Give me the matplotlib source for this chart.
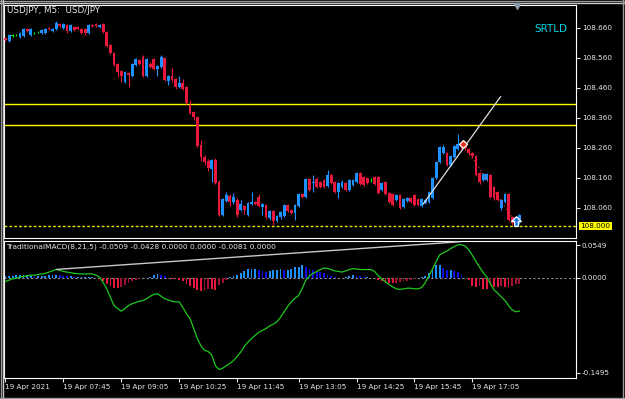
import numpy as np
import matplotlib
matplotlib.use("Agg")
import matplotlib.pyplot as plt
from matplotlib.path import Path

# USDJPY M5, 19 Apr 2021, bar 0 = 06:25
opens = [
    108.626, 108.616, 108.634, 108.636, 108.629, 108.632, 108.656, 108.636, 108.642, 108.646,
    108.642, 108.642, 108.659, 108.649, 108.656, 108.672, 108.659, 108.669, 108.649, 108.662,
    108.662, 108.656, 108.656, 108.642, 108.669, 108.672, 108.662, 108.672, 108.646, 108.602,
    108.576, 108.539, 108.516, 108.480, 108.509, 108.499, 108.536, 108.552, 108.562, 108.499,
    108.539, 108.556, 108.522, 108.529, 108.559, 108.482, 108.499, 108.489, 108.462, 108.476,
    108.462, 108.402, 108.379, 108.362, 108.269, 108.229, 108.216, 108.189, 108.219, 108.146,
    108.036, 108.082, 108.099, 108.079, 108.086, 108.052, 108.066, 108.036, 108.072, 108.079,
    108.096, 108.062, 108.069, 108.026, 108.049, 108.016, 108.029, 108.032, 108.069, 108.052,
    108.042, 108.066, 108.106, 108.096, 108.156, 108.142, 108.156, 108.146, 108.152, 108.132,
    108.169, 108.146, 108.112, 108.129, 108.142, 108.119, 108.136, 108.146, 108.176, 108.162,
    108.159, 108.152, 108.162, 108.162, 108.119, 108.146, 108.109, 108.106, 108.086, 108.102,
    108.062, 108.082, 108.092, 108.102, 108.089, 108.066, 108.076, 108.079, 108.092, 108.159,
    108.212, 108.242, 108.242, 108.202, 108.229, 108.256, 108.272, 108.276, 108.256, 108.242,
    108.232, 108.176, 108.152, 108.152, 108.169, 108.129, 108.112, 108.059, 108.079, 108.106,
    108.029, 108.019, 108.009,
]
highs = [
    108.630, 108.639, 108.638, 108.640, 108.645, 108.660, 108.659, 108.659, 108.646, 108.650,
    108.655, 108.659, 108.662, 108.659, 108.681, 108.676, 108.676, 108.672, 108.672, 108.666,
    108.666, 108.659, 108.659, 108.672, 108.672, 108.676, 108.672, 108.676, 108.649, 108.606,
    108.579, 108.542, 108.519, 108.516, 108.512, 108.542, 108.559, 108.556, 108.569, 108.559,
    108.545, 108.559, 108.536, 108.568, 108.562, 108.502, 108.526, 108.492, 108.499, 108.489,
    108.466, 108.419, 108.382, 108.366, 108.286, 108.236, 108.222, 108.222, 108.226, 108.152,
    108.092, 108.112, 108.106, 108.109, 108.092, 108.086, 108.069, 108.079, 108.112, 108.082,
    108.106, 108.076, 108.072, 108.052, 108.052, 108.036, 108.049, 108.072, 108.072, 108.056,
    108.072, 108.109, 108.109, 108.159, 108.159, 108.169, 108.162, 108.149, 108.156, 108.186,
    108.172, 108.149, 108.146, 108.152, 108.146, 108.156, 108.156, 108.179, 108.179, 108.166,
    108.162, 108.159, 108.166, 108.166, 108.146, 108.149, 108.112, 108.109, 108.106, 108.106,
    108.092, 108.096, 108.096, 108.106, 108.092, 108.092, 108.089, 108.116, 108.162, 108.216,
    108.266, 108.269, 108.246, 108.236, 108.269, 108.306, 108.279, 108.279, 108.259, 108.246,
    108.236, 108.179, 108.176, 108.176, 108.172, 108.132, 108.116, 108.089, 108.109, 108.109,
    108.032, 108.022, 108.039,
]
lows = [
    108.616, 108.613, 108.630, 108.632, 108.626, 108.628, 108.646, 108.632, 108.638, 108.642,
    108.639, 108.639, 108.652, 108.646, 108.652, 108.662, 108.656, 108.642, 108.646, 108.649,
    108.652, 108.639, 108.636, 108.639, 108.664, 108.662, 108.659, 108.642, 108.596, 108.572,
    108.532, 108.496, 108.480, 108.476, 108.462, 108.496, 108.532, 108.536, 108.495, 108.496,
    108.526, 108.519, 108.499, 108.526, 108.482, 108.469, 108.479, 108.455, 108.459, 108.452,
    108.406, 108.372, 108.352, 108.262, 108.216, 108.202, 108.182, 108.146, 108.139, 108.032,
    108.032, 108.079, 108.066, 108.072, 108.029, 108.049, 108.039, 108.032, 108.069, 108.069,
    108.062, 108.036, 108.022, 108.019, 108.002, 108.012, 108.022, 108.029, 108.046, 108.039,
    108.019, 108.062, 108.092, 108.092, 108.116, 108.112, 108.126, 108.126, 108.126, 108.129,
    108.139, 108.109, 108.092, 108.126, 108.116, 108.116, 108.132, 108.142, 108.136, 108.132,
    108.139, 108.146, 108.136, 108.106, 108.116, 108.102, 108.076, 108.066, 108.082, 108.056,
    108.059, 108.079, 108.076, 108.066, 108.066, 108.062, 108.072, 108.076, 108.089, 108.156,
    108.209, 108.239, 108.199, 108.199, 108.226, 108.252, 108.256, 108.252, 108.236, 108.226,
    108.166, 108.139, 108.149, 108.149, 108.092, 108.086, 108.082, 108.052, 108.076, 108.016,
    108.002, 108.002, 108.006,
]
closes = [
    108.619, 108.636, 108.635, 108.636, 108.642, 108.656, 108.649, 108.656, 108.642, 108.647,
    108.652, 108.656, 108.656, 108.656, 108.676, 108.666, 108.672, 108.649, 108.669, 108.652,
    108.656, 108.642, 108.642, 108.669, 108.667, 108.666, 108.669, 108.646, 108.599, 108.576,
    108.536, 108.512, 108.499, 108.512, 108.502, 108.539, 108.556, 108.539, 108.499, 108.556,
    108.529, 108.522, 108.532, 108.562, 108.486, 108.499, 108.486, 108.462, 108.476, 108.456,
    108.409, 108.376, 108.362, 108.266, 108.229, 108.212, 108.192, 108.219, 108.142, 108.036,
    108.089, 108.102, 108.079, 108.096, 108.036, 108.072, 108.052, 108.076, 108.079, 108.072,
    108.066, 108.072, 108.029, 108.049, 108.016, 108.032, 108.046, 108.069, 108.049, 108.042,
    108.069, 108.106, 108.096, 108.156, 108.119, 108.146, 108.129, 108.129, 108.129, 108.169,
    108.142, 108.112, 108.142, 108.146, 108.119, 108.152, 108.152, 108.176, 108.139, 108.136,
    108.142, 108.153, 108.139, 108.109, 108.142, 108.106, 108.079, 108.069, 108.102, 108.059,
    108.089, 108.092, 108.079, 108.069, 108.069, 108.089, 108.086, 108.112, 108.159, 108.212,
    108.262, 108.262, 108.202, 108.232, 108.266, 108.272, 108.262, 108.259, 108.242, 108.232,
    108.169, 108.146, 108.172, 108.172, 108.096, 108.092, 108.086, 108.086, 108.106, 108.019,
    108.009, 108.006, 108.036,
]

# TraditionalMACD(8,21,5): main line and histogram
macd_line = [
    -0.0055, -0.0037, -0.0018, -0.0009, 0.0009, 0.0018, 0.0028, 0.0037, 0.0037, 0.0046,
    0.0055, 0.0064, 0.0083, 0.0101, 0.0120, 0.0110, 0.0092, 0.0083, 0.0074, 0.0064,
    0.0060, 0.0055, 0.0055, 0.0055, 0.0055, 0.0037, 0.0009, -0.0074, -0.0166, -0.0295,
    -0.0414, -0.0460, -0.0497, -0.0460, -0.0414, -0.0387, -0.0368, -0.0350, -0.0341, -0.0313,
    -0.0276, -0.0249, -0.0239, -0.0276, -0.0313, -0.0332, -0.0350, -0.0359, -0.0359, -0.0442,
    -0.0534, -0.0608, -0.0755, -0.0903, -0.1013, -0.1078, -0.1096, -0.1151, -0.1308, -0.1363,
    -0.1345, -0.1308, -0.1271, -0.1234, -0.1170, -0.1105, -0.1022, -0.0958, -0.0903, -0.0857,
    -0.0810, -0.0783, -0.0755, -0.0718, -0.0691, -0.0654, -0.0589, -0.0507, -0.0424, -0.0359,
    -0.0304, -0.0267, -0.0157, -0.0037, 0.0028, 0.0064, 0.0092, 0.0120, 0.0143, 0.0138,
    0.0120, 0.0101, 0.0092, 0.0083, 0.0101, 0.0120, 0.0134, 0.0129, 0.0120, 0.0120,
    0.0120, 0.0120, 0.0092, 0.0028, -0.0018, -0.0064, -0.0101, -0.0138, -0.0166, -0.0175,
    -0.0166, -0.0157, -0.0157, -0.0166, -0.0166, -0.0147, -0.0074, 0.0028, 0.0129, 0.0239,
    0.0341, 0.0368, 0.0396, 0.0433, 0.0460, 0.0488, 0.0488, 0.0470, 0.0414, 0.0332,
    0.0239, 0.0157, 0.0074, 0.0009, -0.0092, -0.0184, -0.0230, -0.0285, -0.0341, -0.0414,
    -0.0479, -0.0507, -0.0497,
]
macd_hist = [
    0.0018, 0.0028, 0.0028, 0.0037, 0.0037, 0.0037, 0.0037, 0.0037, 0.0028, 0.0028,
    0.0028, 0.0028, 0.0037, 0.0046, 0.0046, 0.0037, 0.0028, 0.0018, 0.0018, 0.0009,
    0.0009, 0.0009, 0.0009, 0.0009, 0.0009, 0.0000, -0.0018, -0.0055, -0.0092, -0.0120,
    -0.0147, -0.0157, -0.0138, -0.0110, -0.0083, -0.0055, -0.0037, -0.0018, -0.0009, 0.0000,
    0.0009, 0.0037, 0.0055, 0.0037, 0.0018, 0.0000, -0.0018, -0.0018, -0.0037, -0.0055,
    -0.0092, -0.0129, -0.0157, -0.0184, -0.0193, -0.0184, -0.0166, -0.0166, -0.0184, -0.0110,
    -0.0074, -0.0028, 0.0009, 0.0028, 0.0046, 0.0074, 0.0101, 0.0134, 0.0134, 0.0134,
    0.0110, 0.0092, 0.0083, 0.0101, 0.0110, 0.0110, 0.0134, 0.0110, 0.0110, 0.0134,
    0.0157, 0.0157, 0.0193, 0.0157, 0.0134, 0.0115, 0.0101, 0.0083, 0.0074, 0.0046,
    0.0018, 0.0009, 0.0000, 0.0000, 0.0009, 0.0018, 0.0037, 0.0028, 0.0018, 0.0009,
    0.0009, 0.0000, -0.0009, -0.0028, -0.0055, -0.0074, -0.0083, -0.0083, -0.0074, -0.0064,
    -0.0055, -0.0046, -0.0028, -0.0018, -0.0009, 0.0009, 0.0028, 0.0064, 0.0110, 0.0184,
    0.0184, 0.0138, 0.0110, 0.0110, 0.0101, 0.0083, 0.0037, 0.0000, -0.0037, -0.0120,
    -0.0138, -0.0120, -0.0166, -0.0166, -0.0120, -0.0138, -0.0138, -0.0120, -0.0138, -0.0138,
    -0.0120, -0.0101, -0.0092,
]

price_ticks = [108.660, 108.560, 108.460, 108.360, 108.260, 108.160, 108.060]
hlines_yellow = [108.405, 108.336]
alert_price = 108.000
macd_max, macd_min = 0.0549, -0.1495

time_tick_bars = [0, 16, 32, 48, 64, 81, 97, 113, 129]
time_tick_labels = ["19 Apr 2021", "19 Apr 07:45", "19 Apr 09:05", "19 Apr 10:25",
                    "19 Apr 11:45", "19 Apr 13:05", "19 Apr 14:25", "19 Apr 15:45",
                    "19 Apr 17:05"]

# drawn objects
trend_bars, trend_prices = [115.4, 136.8], [108.072, 108.430]
div_bars, div_values = [14.2, 125.5], [0.0123, 0.0533]
deal_bars, deal_prices = [126.5, 139.8], [108.272, 108.030]
buy_bar, buy_price = 141.0, 108.017

W, H = 625, 399
fig = plt.figure(figsize=(W / 100, H / 100), dpi=100, facecolor="black")


def rect(x0, y0, x1, y1):
    return [x0 / W, 1 - y1 / H, (x1 - x0) / W, (y1 - y0) / H]


ax = fig.add_axes(rect(4, 4.7, 575.5, 238))
ax2 = fig.add_axes(rect(4, 240.7, 575.5, 378.3))

FS = 5.2
TXT = "#e6e6e6"
for a in (ax, ax2):
    a.set_facecolor("black")
    for s in a.spines.values():
        s.set_color("white")
        s.set_linewidth(0.8)
    a.set_xlim(-0.41, 157.5)

x = np.arange(len(closes))
o = np.array(opens)
c = np.array(closes)
cols = np.where(c - o > 0.0012, "#1e90ff", np.where(o - c > 0.0012, "#e8173c", "#00ff00"))

# candles
ax.vlines(x, lows, highs, colors=cols, lw=0.8, zorder=3)
ax.bar(x, np.maximum(np.abs(c - o), 0.0012), bottom=np.minimum(o, c), width=0.78,
       color=cols, lw=0, zorder=4)

for p in hlines_yellow:
    ax.axhline(p, color="#ffff00", lw=1.0, zorder=2)
ax.axhline(alert_price, color="#e6e600", lw=1.0, ls=(0, (2, 1.5)), zorder=2)

ax.plot(trend_bars, trend_prices, color="#e0e0e0", lw=0.9, zorder=5)
ax.plot(deal_bars, deal_prices, color="#ff3020", lw=0.8, ls=(0, (1, 2.5)), zorder=5)
ax.plot(deal_bars[0], deal_prices[0], marker="D", ms=4.5, mfc="#e83020",
        mec="white", mew=0.9, zorder=6)
arrow = Path([(0, 1), (-1, 0), (-0.4, 0), (-0.4, -1), (0.4, -1), (0.4, 0), (1, 0), (0, 1)])
ax.plot(buy_bar, buy_price, marker=arrow, ms=7, mfc="#1e78e6", mec="white",
        mew=0.9, zorder=6)

ax.set_ylim(107.959, 108.7367)
ax.set_xticks([])
ax.yaxis.tick_right()
ax.set_yticks(price_ticks)
ax.set_yticklabels([f"{v:.3f}" for v in price_ticks])
ax.tick_params(axis="y", colors=TXT, labelsize=FS, length=3, width=0.8, pad=1.5)
ax.text(1.0 + 5 / 571.5, alert_price, f"{alert_price:.3f}", transform=ax.get_yaxis_transform(),
        ha="left", va="center", fontsize=FS, color="black",
        bbox=dict(boxstyle="square,pad=0.15", fc="#ffff00", ec="none"))

# MACD window
h = np.array(macd_hist)
dh = np.diff(h, prepend=h[0])
hcols = np.where(h >= 0, np.where(dh >= 0, "#1e90ff", "#1010e6"),
                 np.where(dh <= 0, "#e8173c", "#a01030"))
ax2.bar(x, h, width=0.5, color=hcols, lw=0, zorder=3)
ax2.axhline(0, color="#8c8c8c", lw=0.8, ls=(0, (2, 2)), zorder=2)
ax2.plot(x, macd_line, color="#1ec81e", lw=0.9, zorder=4)
ax2.plot(div_bars, div_values, color="#c8c8c8", lw=1.0, zorder=5)
ax2.set_ylim(macd_min, macd_max)
ax2.yaxis.tick_right()
ax2.set_yticks([0.0484, 0.0, -0.141])
ax2.set_yticklabels([f"{macd_max:.4f}", "0.0000", f"{macd_min:.4f}"])
ax2.tick_params(axis="y", colors=TXT, labelsize=FS, length=3, width=0.8, pad=1.5)
ax2.set_xticks(time_tick_bars)
ax2.set_xticklabels(time_tick_labels, ha="left")
ax2.tick_params(axis="x", colors=TXT, labelsize=FS, length=3, width=0.8, pad=0.8)

fig.text(7 / W, 1 - 10.5 / H, "USDJPY, M5:  USD/JPY", color=TXT, fontsize=6.3, va="center")
fig.text(567 / W, 1 - 29 / H, "SRTLD", color="#00d0e0", fontsize=7.5, ha="right", va="center")
fig.text(6 / W, 1 - 247 / H,
         "TraditionalMACD(8,21,5) -0.0509 -0.0428 0.0000 0.0000 -0.0081 0.0000",
         color=TXT, fontsize=5.4, va="center")

# window frame and chart-shift marker
frame = fig.add_axes([0, 0, 1, 1], zorder=10)
frame.set_xlim(0, W)
frame.set_ylim(H, 0)
frame.axis("off")
frame.patch.set_alpha(0)
frame.plot([0, W], [0.5, 0.5], color="#9a9a9a", lw=1)
frame.plot([0, W], [3.0, 3.0], color="#c8c8c8", lw=1)
frame.plot([0.5, 0.5], [0, H], color="#9a9a9a", lw=1)
frame.plot([2.6, 2.6], [0, H], color="#c8c8c8", lw=1)
frame.plot([622.5, 622.5], [0, H], color="#9a9a9a", lw=1)
frame.plot([0, W], [397.5, 397.5], color="#9a9a9a", lw=1)
frame.plot(517, 6, marker="v", ms=4, color="#8a9aaa")

fig.savefig("out.png", dpi=100, facecolor="black")
